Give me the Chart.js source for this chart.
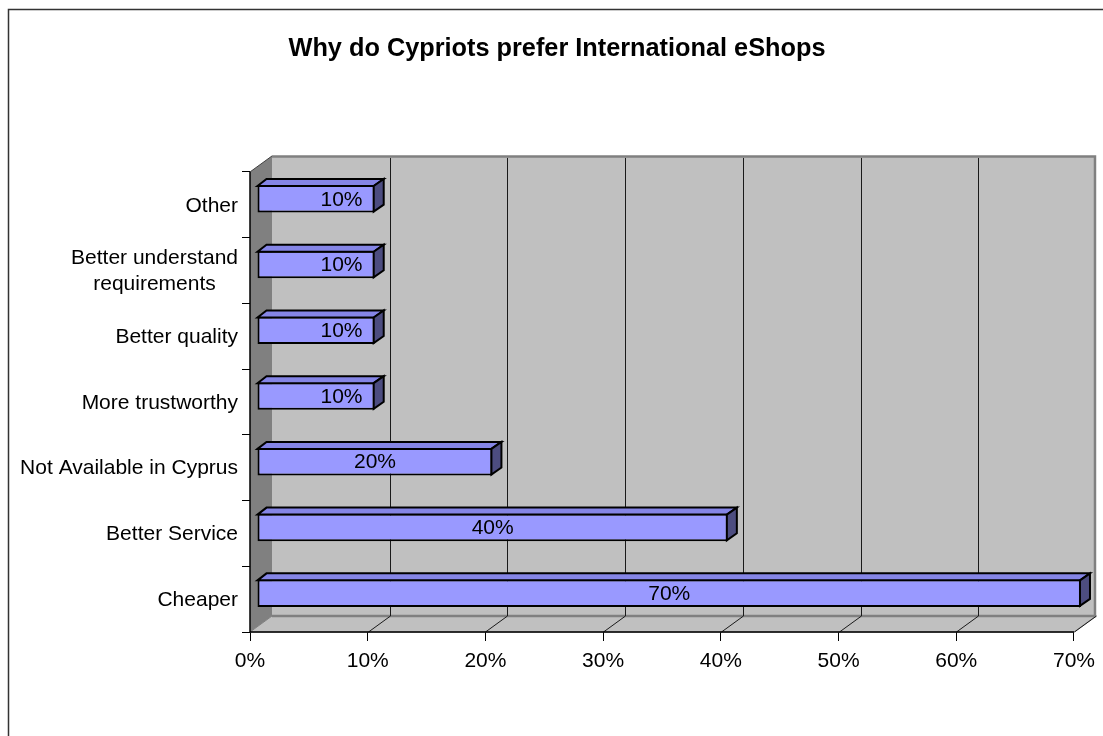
<!DOCTYPE html>
<html>
<head>
<meta charset="utf-8">
<script src="https://cdn.jsdelivr.net/npm/chart.js@4/dist/chart.umd.min.js"></script>
<style>
  html, body { margin: 0; padding: 0; background: #ffffff; }
  #wrap { width: 1103px; height: 736px; position: relative; }
</style>
</head>
<body>
<div id="wrap"><canvas id="c" width="1103" height="736"></canvas></div>
<script>
// ---- data ----
const chartTitle = 'Why do Cypriots prefer International eShops';
const categories = ['Other', ['Better understand', 'requirements'], 'Better quality', 'More trustworthy', 'Not Available in Cyprus', 'Better Service', 'Cheaper'];
const shares = [10, 10, 10, 10, 20, 40, 70];
const tickValues = [0, 10, 20, 30, 40, 50, 60, 70];

// ---- style ----
const FONT = '"Liberation Sans", Arial, sans-serif';
const WALL_DX = 22, WALL_DY = 16;     // depth of the 3D box
const BAR_OX = 7, BAR_OY = 6;         // bar front plane offset
const BAR_DX = 9, BAR_DY = 7;         // bar depth

const threeD = {
  id: 'threeD',
  beforeDraw(chart) {
    const ctx = chart.ctx;
    ctx.save();
    ctx.fillStyle = '#ffffff';
    ctx.fillRect(0, 0, chart.width, chart.height);
    ctx.strokeStyle = '#333333';
    ctx.lineWidth = 1.5;
    ctx.strokeRect(8.5, 9.5, chart.width + 20, chart.height + 20);
    ctx.restore();
  },
  beforeDatasetsDraw(chart) {
    const ctx = chart.ctx, a = chart.chartArea, xs = chart.scales.x;
    const L = a.left, R = a.right, T = a.top, B = a.bottom;
    ctx.save();
    // back wall
    ctx.fillStyle = '#c0c0c0';
    ctx.fillRect(L + WALL_DX, T - WALL_DY, R - L, B - T);
    // floor
    ctx.beginPath();
    ctx.moveTo(L, B); ctx.lineTo(R, B); ctx.lineTo(R + WALL_DX, B - WALL_DY); ctx.lineTo(L + WALL_DX, B - WALL_DY); ctx.closePath();
    ctx.fillStyle = '#c0c0c0'; ctx.fill();
    ctx.strokeStyle = '#808080'; ctx.lineWidth = 1; ctx.stroke();
    // side wall
    ctx.beginPath();
    ctx.moveTo(L, T); ctx.lineTo(L + WALL_DX, T - WALL_DY); ctx.lineTo(L + WALL_DX, B - WALL_DY); ctx.lineTo(L, B); ctx.closePath();
    ctx.fillStyle = '#808080'; ctx.fill();
    // back wall border
    ctx.strokeStyle = '#808080'; ctx.lineWidth = 2.5;
    ctx.beginPath();
    ctx.moveTo(L + WALL_DX, T - WALL_DY + 0.5); ctx.lineTo(R + WALL_DX - 1, T - WALL_DY + 0.5);
    ctx.lineTo(R + WALL_DX - 1, B - WALL_DY); ctx.lineTo(L + WALL_DX, B - WALL_DY);
    ctx.stroke();
    // gridlines on back wall + floor diagonals
    ctx.strokeStyle = '#1a1a1a'; ctx.lineWidth = 1;
    tickValues.forEach(v => {
      if (v === 0) return;
      const px = Math.round(xs.getPixelForValue(v)) + 0.5;
      if (v !== tickValues[tickValues.length - 1]) {
        ctx.beginPath();
        ctx.moveTo(px + WALL_DX, T - WALL_DY + 2); ctx.lineTo(px + WALL_DX, B - WALL_DY);
        ctx.stroke();
      }
      ctx.beginPath();
      ctx.moveTo(px, B); ctx.lineTo(px + WALL_DX, B - WALL_DY);
      ctx.stroke();
    });
    // side wall top edge
    ctx.strokeStyle = '#404040'; ctx.lineWidth = 1;
    ctx.beginPath(); ctx.moveTo(L, T); ctx.lineTo(L + WALL_DX, T - WALL_DY); ctx.stroke();
    // axis lines
    ctx.strokeStyle = '#000000'; ctx.lineWidth = 1.5;
    ctx.beginPath(); ctx.moveTo(L, T); ctx.lineTo(L, B); ctx.lineTo(R, B); ctx.stroke();
    ctx.restore();
    // move bars to their depth plane
    ctx.save();
    ctx.translate(BAR_OX, -BAR_OY);
  },
  afterDatasetsDraw(chart) {
    const ctx = chart.ctx;
    const meta = chart.getDatasetMeta(0);
    meta.data.forEach((el, i) => {
      const p = el.getProps(['x', 'y', 'base', 'height'], true);
      const left = Math.min(p.base, p.x), right = Math.max(p.base, p.x);
      const top = p.y - p.height / 2, bottom = p.y + p.height / 2;
      ctx.lineWidth = 2; ctx.strokeStyle = '#000000'; ctx.lineJoin = 'miter';
      // top face
      ctx.beginPath();
      ctx.moveTo(left, top + 1); ctx.lineTo(left + BAR_DX, top - BAR_DY + 1);
      ctx.lineTo(right + BAR_DX, top - BAR_DY + 1); ctx.lineTo(right - 1, top + 1); ctx.closePath();
      ctx.fillStyle = '#8585e6'; ctx.fill(); ctx.stroke();
      // side face
      ctx.beginPath();
      ctx.moveTo(right - 1, top + 1); ctx.lineTo(right + BAR_DX, top - BAR_DY + 1);
      ctx.lineTo(right + BAR_DX, bottom - BAR_DY - 1); ctx.lineTo(right - 1, bottom - 1); ctx.closePath();
      ctx.fillStyle = '#4d4d80'; ctx.fill(); ctx.stroke();
      // value label
      ctx.fillStyle = '#000000';
      ctx.font = '21px ' + FONT;
      ctx.textAlign = 'center'; ctx.textBaseline = 'middle';
      const cx = Math.max((left + right) / 2, left + 84);
      ctx.fillText(shares[i] + '%', cx, p.y + 1);
    });
    ctx.restore();
  },
  afterDraw(chart) {
    const ctx = chart.ctx, ys = chart.scales.y, a = chart.chartArea;
    ctx.save();
    ctx.font = '21px ' + FONT;
    ctx.fillStyle = '#000000';
    ctx.textBaseline = 'middle';
    ctx.textAlign = 'center';
    const rightEdge = a.left - 12;
    categories.forEach((lab, i) => {
      const lines = Array.isArray(lab) ? lab : [lab];
      const w = Math.max(...lines.map(s => ctx.measureText(s).width));
      const cx = rightEdge - w / 2;
      const cy = ys.getPixelForValue(i);
      const lh = 26;
      lines.forEach((s, k) => {
        ctx.fillText(s, cx, cy + (k - (lines.length - 1) / 2) * lh + 1);
      });
    });
    ctx.restore();
  }
};

new Chart(document.getElementById('c'), {
  type: 'bar',
  data: {
    labels: categories,
    datasets: [{
      data: shares,
      backgroundColor: '#9999ff',
      borderColor: '#000000',
      borderWidth: 2,
      borderSkipped: false,
      categoryPercentage: 1,
      barPercentage: 0.42,
      clip: false
    }]
  },
  options: {
    indexAxis: 'y',
    responsive: false,
    animation: false,
    events: [],
    layout: { padding: { left: 39, right: 28, top: 0, bottom: 0 } },
    plugins: {
      legend: { display: false },
      tooltip: { enabled: false },
      title: {
        display: true,
        text: chartTitle,
        color: '#000000',
        font: { family: FONT, size: 25.3, weight: 'bold', lineHeight: 1.2 },
        padding: { top: 34, bottom: 107.6 }
      }
    },
    scales: {
      x: {
        type: 'linear',
        min: 0, max: 70,
        afterBuildTicks: s => { s.ticks = tickValues.map(v => ({ value: v })); },
        afterFit: s => { s.height = 104; },
        grid: { display: true, drawOnChartArea: false, drawTicks: true, tickLength: 9, color: '#000000', lineWidth: 1 },
        border: { display: false },
        ticks: { color: '#000000', font: { family: FONT, size: 21 }, padding: 8, maxRotation: 0, callback: v => v + '%' }
      },
      y: {
        type: 'category',
        afterFit: s => { s.width = 211; },
        grid: { display: true, drawOnChartArea: false, drawTicks: true, tickLength: 8, color: '#000000', lineWidth: 1, offset: true },
        border: { display: false },
        ticks: { display: false }
      }
    }
  },
  plugins: [threeD]
});
</script>
</body>
</html>
